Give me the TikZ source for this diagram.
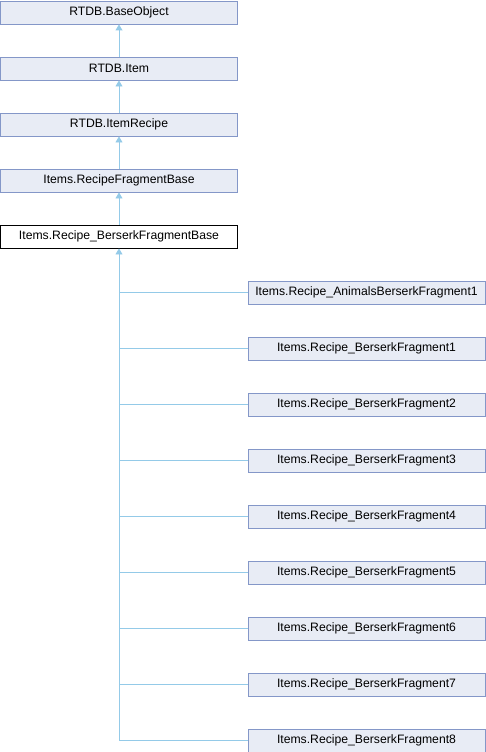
\documentclass[tikz,border=0pt]{standalone}
\usepackage{fontspec}
\setmainfont{Liberation Sans}
\usetikzlibrary{arrows.meta}
\definecolor{boxfill}{HTML}{E8ECF5}
\definecolor{boxline}{HTML}{8497C8}
\definecolor{edgecol}{HTML}{94CAE8}
\tikzset{
  cls/.style={draw=boxline, fill=boxfill, line width=0.9pt, minimum width=237pt, minimum height=23pt, inner sep=0pt, font=\fontsize{12.2}{14}\selectfont},
  curcls/.style={cls, draw=black, fill=white},
  inh/.style={draw=edgecol, line width=0.9pt, -{Triangle[width=7pt,length=6pt]}},
  link/.style={draw=edgecol, line width=0.9pt},
}
\begin{document}
\begin{tikzpicture}[x=1pt,y=-1pt]
\useasboundingbox (0,0) rectangle (486,752);
\node[cls] (base) at (119,12.5) {RTDB.BaseObject};
\node[cls] (item) at (119,68.5) {RTDB.Item};
\node[cls] (recipe) at (119,124.5) {RTDB.ItemRecipe};
\node[cls] (frag) at (119,180.5) {Items.RecipeFragmentBase};
\node[curcls] (berserk) at (119,236.5) {Items.Recipe\_BerserkFragmentBase};
\draw[inh] (item.north) -- (base.south);
\draw[inh] (recipe.north) -- (item.south);
\draw[inh] (frag.north) -- (recipe.south);
\draw[inh] (berserk.north) -- (frag.south);
\node[cls] (c0) at (366.5,292.5) {Items.Recipe\_AnimalsBerserkFragment1};
\foreach \i in {1,...,8} {
  \node[cls] (c\i) at (366.5,292.5+56*\i) {Items.Recipe\_BerserkFragment\i};
}
\coordinate (bend) at (119,740.5);
\draw[inh] (bend) -- (berserk.south);
\foreach \i in {0,...,8} {
  \draw[link] (c\i.west) -- (c\i.west -| berserk.south);
}
\end{tikzpicture}
\end{document}
